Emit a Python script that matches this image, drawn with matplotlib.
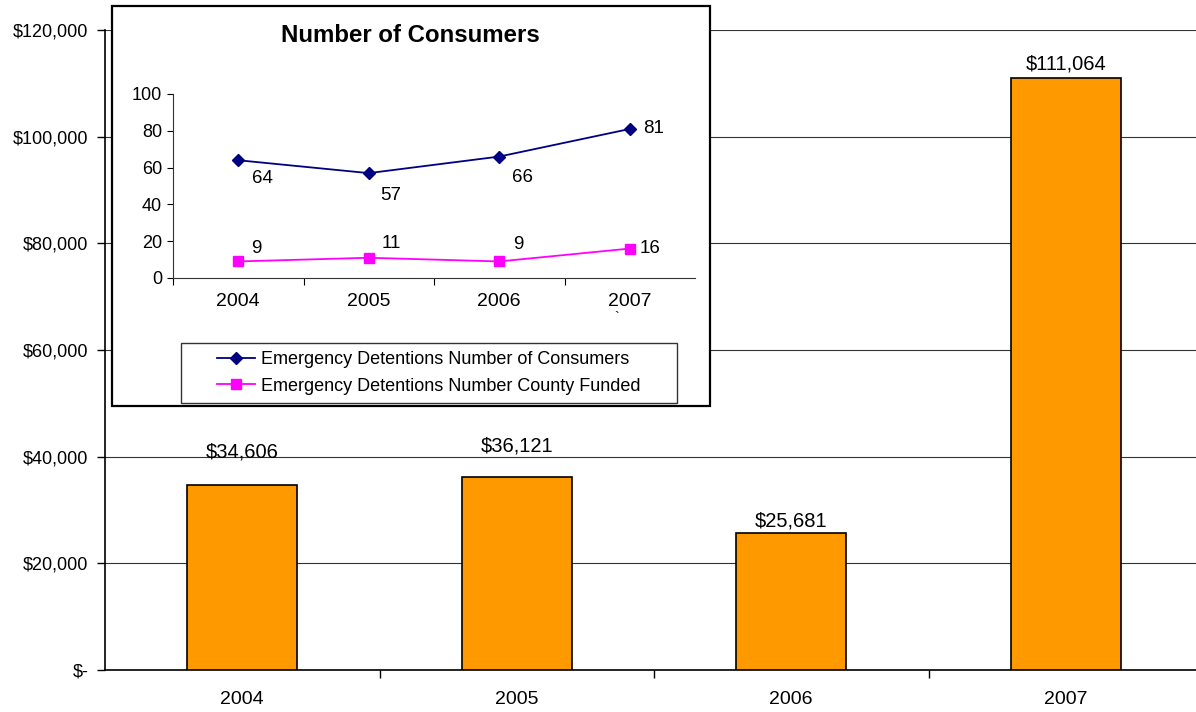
import matplotlib
matplotlib.use("Agg")
import matplotlib.pyplot as plt
from matplotlib.patches import Rectangle
from matplotlib.lines import Line2D

plt.rcParams['font.family'] = ['Liberation Sans', 'DejaVu Sans']

years = ["2004", "2005", "2006", "2007"]
costs = [34606, 36121, 25681, 111064]
consumers = [64, 57, 66, 81]
county_funded = [9, 11, 9, 16]

y_ticks = [0, 20000, 40000, 60000, 80000, 100000, 120000]
y_tick_labels = ["$-", "$20,000", "$40,000", "$60,000", "$80,000", "$100,000", "$120,000"]

W, H = 1196, 712
fig = plt.figure(figsize=(W / 100, H / 100), dpi=100)

# Main bar chart
ax = fig.add_axes([105 / W, 42 / H, 1098 / W, 640 / H])
x = list(range(len(years)))
ax.bar(x, costs, width=0.4, color="#FF9900", edgecolor="black", linewidth=1.2, zorder=3)
ax.set_xlim(-0.5, 3.5)
ax.set_ylim(0, 120000)
ax.set_yticks(y_ticks)
ax.set_yticklabels(y_tick_labels, fontsize=13)
ax.set_xticks([0.5, 1.5, 2.5], minor=False)
ax.set_xticklabels([])
ax.set_xticks(x, minor=True)
ax.set_xticklabels(years, minor=True, fontsize=14)
ax.tick_params(axis="x", which="minor", length=0, pad=15)
ax.tick_params(axis="x", which="major", length=6, direction="out", width=1)
ax.tick_params(axis="y", length=6, direction="out", width=1, pad=6)
ax.grid(axis="y", color="#333333", linewidth=0.8, zorder=0)
for side in ("top", "right"):
    ax.spines[side].set_visible(False)
ax.spines["left"].set_linewidth(1.2)
ax.spines["bottom"].set_linewidth(1.2)

# Value labels above bars (Excel-style offsets)
label_offsets = [17, 16, 2, 3]
for xi, v, off in zip(x, costs, label_offsets):
    ax.annotate(f"${v:,}", (xi, v), xytext=(0, off), textcoords="offset points",
                ha="center", va="bottom", fontsize=14.5)

# Inset panel frame
frame = Rectangle((112 / W, 1 - 406 / H), (710 - 112) / W, (406 - 6) / H,
                  transform=fig.transFigure, facecolor="white", edgecolor="black",
                  linewidth=1.6, zorder=5)
fig.patches.append(frame)

fig.text(410 / W, 1 - 36 / H, "Number of Consumers", ha="center", va="center",
         fontsize=17.3, fontweight="bold", zorder=6)

# Inset line chart
ax2 = fig.add_axes([173 / W, 1 - 278 / H, 522 / W, 184 / H], zorder=6)
ax2.patch.set_alpha(0)
ax2.plot(x, consumers, color="#000080", marker="D", markersize=6, linewidth=1.3)
ax2.plot(x, county_funded, color="#FF00FF", marker="s", markersize=7, linewidth=1.3)
ax2.set_xlim(-0.5, 3.5)
ax2.set_ylim(0, 100)
ax2.set_yticks([0, 20, 40, 60, 80, 100])
ax2.tick_params(axis="y", labelsize=13, length=4, direction="out", pad=4)
ax2.set_xticks([-0.5, 0.5, 1.5, 2.5])
ax2.set_xticklabels([])
ax2.tick_params(axis="x", which="major", length=5, direction="out")
ax2.set_xticks(x, minor=True)
ax2.set_xticklabels(years, minor=True, fontsize=14)
ax2.tick_params(axis="x", which="minor", length=0, pad=11)
for side in ("top", "right"):
    ax2.spines[side].set_visible(False)
ax2.spines["left"].set_color("#333333")
ax2.spines["bottom"].set_color("#333333")

cons_offsets = [(10, -7), (8, -10), (9, -9), (9.5, 0)]
for xi, v, (dx, dy) in zip(x, consumers, cons_offsets):
    ax2.annotate(str(v), (xi, v), xytext=(dx, dy), textcoords="offset points",
                 ha="left", va="top" if dy < 0 else "center", fontsize=13.5)
fund_offsets = [(9.5, 3), (9.5, 4.5), (10, 6), (7, 0)]
for xi, v, (dx, dy) in zip(x, county_funded, fund_offsets):
    ax2.annotate(str(v), (xi, v), xytext=(dx, dy), textcoords="offset points",
                 ha="left", va="bottom" if dy > 0 else "center", fontsize=13.5)
fig.text(617 / W, 1 - 318 / H, "`", ha="center", va="center", fontsize=10, zorder=7)

# Legend with its own box
leg_box = Rectangle((181 / W, 1 - 403 / H), (677 - 181) / W, (403 - 343) / H,
                    transform=fig.transFigure, facecolor="white", edgecolor="#333333",
                    linewidth=1.0, zorder=7)
fig.patches.append(leg_box)
handles = [
    Line2D([], [], color="#000080", marker="D", markersize=6, linewidth=1.3),
    Line2D([], [], color="#FF00FF", marker="s", markersize=7, linewidth=1.3),
]
leg = fig.legend(handles, ["Emergency Detentions Number of Consumers",
                           "Emergency Detentions Number County Funded"],
                 loc="center", bbox_to_anchor=(429 / W, 1 - 373 / H),
                 fontsize=13, frameon=False, handlelength=2.1,
                 handletextpad=0.35, borderpad=0.0, labelspacing=0.5)
leg.set_zorder(8)

fig.savefig("out.png", dpi=100)
